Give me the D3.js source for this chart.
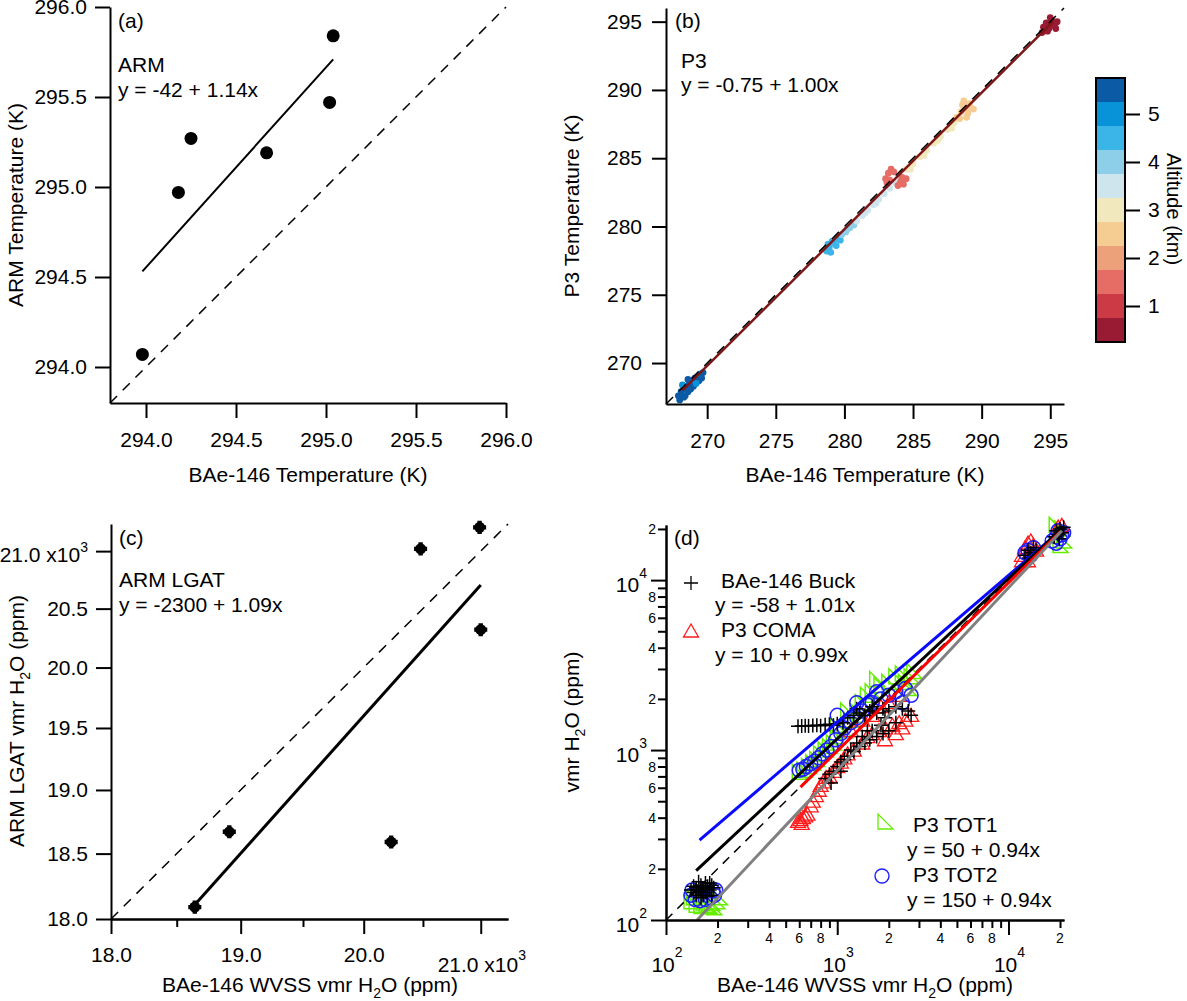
<!DOCTYPE html>
<html lang="en">
<head>
<meta charset="UTF-8">
<title>Temperature and water vapour comparisons</title>
<style>
  body{margin:0;background:#fff;}
  svg{font-family:"Liberation Sans",Arial,sans-serif;}
</style>
</head>
<body>
<svg id="fig" width="1187" height="1001"></svg>
<script src="https://d3js.org/d3.v7.min.js"></script>
<script>
// ---------------- data ----------------
// (a) ARM surface temperature against BAe-146
const armBaeT = [293.98, 294.18, 294.25, 294.67, 295.02, 295.04];
const armT    = [294.07, 294.97, 295.27, 295.19, 295.47, 295.84];
const aTicks  = [294.0, 294.5, 295.0, 295.5, 296.0];

// (b) P3 temperature against BAe-146, coloured by altitude (km)
const p3BaeT = [267.9,268.1,268.3,268.5,268.7,268.9,269.1,269.3,269.5,269.7,268.4,268.6,268.2,269.0,269.4,268.0,268.8,269.2,268.3,269.6,268.6,
  278.7,278.9,279.2,279.5,279.0,278.8,279.4,279.7,279.1,
  279.8,280.1,280.4,280.7,280.2,
  280.9,281.3,281.7,282.1,282.5,282.9,283.3,283.7,284.1,281.5,282.3,
  283.0,283.2,283.4,283.3,283.6,283.1,284.1,284.3,284.5,283.9,284.2,
  284.5,285.0,285.5,286.0,286.5,287.0,287.5,288.0,284.8,285.8,286.8,287.8,
  288.2,288.5,288.8,289.0,288.6,289.2,288.4,289.4,288.7,288.9,289.1,
  294.4,294.6,294.8,295.0,295.2,294.9,295.1,295.3,294.7,295.5,294.5,295.0,295.4,294.8];
const p3T = [267.6,267.9,268.1,268.3,268.5,268.7,268.9,269.0,269.2,269.3,267.6,267.9,268.4,268.3,268.7,267.3,268.1,268.5,267.5,268.9,268.8,
  278.2,278.5,278.8,279.1,278.1,278.7,278.6,279.0,278.9,
  279.4,279.6,279.9,280.1,279.8,
  280.4,280.8,281.2,281.6,282.0,282.4,282.8,283.2,283.5,281.0,281.7,
  283.5,283.9,284.2,283.4,284.0,283.2,283.3,283.1,283.5,283.0,283.6,
  284.2,284.6,285.1,285.6,286.1,286.6,287.1,287.6,284.2,285.2,286.3,287.2,
  288.0,288.4,288.6,288.3,288.9,288.7,287.9,288.6,289.2,288.0,289.0,
  294.2,294.4,294.7,294.9,294.8,294.5,295.1,294.7,294.9,295.0,294.6,295.3,294.5,294.3];
const p3Alt = [5.5,5.5,5.5,5.5,5.5,5.0,5.5,5.5,5.0,5.5,5.5,5.5,5.0,5.5,5.5,5.5,5.5,5.0,5.5,5.5,5.5,
  4.5,4.5,4.6,4.5,4.6,4.5,4.5,4.5,4.5,
  4.0,4.0,3.9,4.0,4.0,
  3.5,3.5,3.6,3.5,3.5,3.4,3.5,3.5,3.5,3.5,3.5,
  1.5,1.5,1.6,1.5,1.5,1.5,1.6,1.5,1.5,1.5,1.5,
  3.0,3.0,2.9,3.0,3.0,3.0,3.1,3.0,3.0,3.0,3.0,3.0,
  2.5,2.5,2.4,2.5,2.5,2.5,2.5,2.4,2.5,2.5,2.5,
  0.5,0.5,0.5,0.5,0.5,0.5,0.5,0.5,0.5,0.5,0.5,0.5,0.5,0.5];
const p3FitX = [268.2, 295.2];
const p3FitY = [268.0, 295.0];
const bTicks = [270, 275, 280, 285, 290, 295];
const altColors = ["#991b33","#cc3a46","#e56d66","#eda17a","#f5cc92","#f1e8bd",
                   "#cfe5ee","#8dcfe8","#3bb5e8","#0893d8","#0b5aa6"];
const altTicks = [1, 2, 3, 4, 5];

// (c) ARM LGAT water vapour against BAe-146 WVSS (ppm)
const lgatBae = [18640, 18910, 20230, 20480, 20990, 21000];
const lgatArm = [18090, 18670, 18590, 21020, 21210, 20320];
const cTicksY = [18000, 18500, 19000, 19500, 20000, 20500, 21000];
const cTicksX = [18000, 19000, 20000, 21000];
const cMinorX = [18500, 19500, 20500];

// (d) all hygrometers against BAe-146 WVSS (ppm)
const buckX = [140,145,150,155,160,165,170,175,180,185,150,160,170,180,145,190,155,165,175,185,150,170,160,
  590,620,650,680,720,760,800,850,900,950,1000,1080,
  1150,1250,1350,1450,1550,1700,1850,2000,2200,2400,2600,1300,1600,2700,1900,
  850,900,950,1000,1050,1100,1150,1250,1350,1450,1550,1700,1850,2000,1200,1400,1600,920,1050,1300,1500,1800,2200,
  12500,13000,13500,14000,14500,13200,18500,19000,19500,20000,20500,19800,21000];
const buckY = [150,145,155,148,160,152,145,158,150,140,140,135,165,165,158,155,168,140,138,160,150,155,148,
  1380,1385,1390,1385,1395,1400,1390,1410,1420,1400,1430,1450,
  1550,1600,1650,1600,1700,1650,1750,1700,1800,1750,1700,1750,1800,1600,1550,
  680,720,750,800,850,880,920,980,1050,1100,1150,1200,1250,1300,1000,1200,1300,640,750,1100,1300,1400,1450,
  14000,15000,14500,15500,15000,13500,18000,19500,18500,20000,19000,17500,20500];
const comaX = [590,610,630,650,670,620,700,720,750,780,800,830,860,900,950,1000,1050,1100,1150,1250,1400,1500,1600,1750,
  1900,2100,2300,2500,2700,2400,2200,1900,1200,1400,1600,1800,2000,2300,
  12000,12500,13000,13500,14000,14500,13000,12000,19500,20500];
const comaY = [380,390,400,410,420,370,470,500,540,580,620,650,690,700,750,800,850,900,950,1000,1100,1200,1250,1300,
  1350,1400,1450,1500,1600,1350,1250,1150,1300,1500,1600,1800,1900,2100,
  14000,15500,16500,17000,16000,15000,13000,13000,20500,21000];
const tot1X = [140,150,160,172,185,198,205,145,190,165,178,
  600,640,680,720,760,800,850,900,950,1000,1100,1200,1300,1400,1500,1600,1800,2000,2200,2400,2700,2600,1350,1000,1150,1700,2800,2500,
  19000,20500,21000,20000];
const tot1Y = [128,122,120,122,125,128,135,135,118,126,120,
  740,760,800,840,880,950,1000,1050,1100,1200,1300,1500,1700,1900,2100,2200,2400,2500,2700,2800,2700,2300,1600,1400,1700,2600,2900,2500,
  21000,20000,17000,16000];
const tot2X = [140,148,158,170,182,192,195,188,142,
  600,630,660,700,740,780,820,870,920,980,1050,1100,1200,1300,1400,1500,1600,1800,2000,2200,2500,2700,2400,1300,1000,1700,
  12500,13000,13500,14000,18000,19000,19500,20000,20500,21000,19000];
const tot2Y = [140,132,130,132,135,140,150,148,150,
  760,770,800,830,860,900,950,1000,1050,1150,1250,1350,1450,1550,1700,1850,1900,2000,2100,2200,2300,2100,1900,1900,1600,2200,
  14500,15000,14000,15500,17000,18000,19500,17500,18500,19000,16500];
// fitted lines (end points)
const fitBlueX  = [157, 20000],  fitBlueY  = [295, 19400];
const fitBlackX = [150, 21000],  fitBlackY = [195, 20500];
const fitRedX   = [610, 20000],  fitRedY   = [605, 19200];
const fitGrayX  = [152, 20500],  fitGrayY  = [100, 19500];
const dMajor = [100, 1000, 10000];
const dMinor = [200,300,400,500,600,700,800,900,2000,3000,4000,5000,6000,7000,8000,9000,20000];
const dMinorLab = [200,400,600,800,2000,4000,6000,8000,20000];

// ---------------- helpers ----------------
const FS = 21;
const svg = d3.select("#fig");

function styleAxis(g){
  g.attr("font-size", FS).attr("font-family", null);
  g.selectAll("path,line").attr("stroke", "#000").attr("stroke-width", 2);
  g.selectAll("text").attr("fill", "#000");
}
function txt(g, x, y, s, size, anchor){
  return g.append("text").attr("x", x).attr("y", y)
    .attr("font-size", size || FS).attr("text-anchor", anchor || "start").text(s);
}
// "main" followed by a superscript
function sci(g, x, y, main, sup, anchor, raise){
  const t = g.append("text").attr("x", x).attr("y", y)
    .attr("font-size", FS).attr("text-anchor", anchor);
  t.append("tspan").text(main);
  t.append("tspan").attr("dy", -raise).attr("font-size", 14).text(sup);
  return t;
}
// label containing H2O with subscript
function h2o(t, pre, post){
  t.append("tspan").text(pre + "H");
  t.append("tspan").attr("dy", 6).attr("font-size", 14).text("2");
  t.append("tspan").attr("dy", -6).text("O" + post);
}
function yTitle(g, x, y, rot){
  return g.append("text").attr("transform", `translate(${x},${y}) rotate(${rot})`)
    .attr("text-anchor", "middle").attr("font-size", FS);
}
function linFit(xs, ys){
  const mx = d3.mean(xs), my = d3.mean(ys);
  let sxy = 0, sxx = 0;
  xs.forEach((x, i) => { sxy += (x - mx) * (ys[i] - my); sxx += (x - mx) * (x - mx); });
  const b = sxy / sxx;
  return {a: my - b * mx, b: b};
}
function segment(g, x, y, xs, ys, color, w, dash){
  return g.append("line")
    .attr("x1", x(xs[0])).attr("y1", y(ys[0]))
    .attr("x2", x(xs[1])).attr("y2", y(ys[1]))
    .attr("stroke", color).attr("stroke-width", w)
    .attr("stroke-dasharray", dash || null);
}

// ---------------- (a) ----------------
const xA = d3.scaleLinear([293.8, 296.0], [110, 506]);
const yA = d3.scaleLinear([293.8, 296.0], [403, 7]);
const gA = svg.append("g");
segment(gA, xA, yA, xA.domain(), yA.domain(), "#000", 1.5, "10,8");
const fitA = linFit(armBaeT, armT);
const exA = d3.extent(armBaeT);
segment(gA, xA, yA, exA, exA.map(v => fitA.a + fitA.b * v), "#000", 2);
gA.selectAll("circle").data(armBaeT).join("circle")
  .attr("cx", d => xA(d)).attr("cy", (d, i) => yA(armT[i])).attr("r", 6.5).attr("fill", "#000");
gA.append("g").attr("transform", "translate(0,403)")
  .call(d3.axisBottom(xA).tickValues(aTicks).tickFormat(d3.format(".1f")).tickSize(15).tickSizeOuter(0).tickPadding(14))
  .call(styleAxis);
gA.append("g").attr("transform", "translate(110,0)")
  .call(d3.axisLeft(yA).tickValues(aTicks).tickFormat(d3.format(".1f")).tickSize(15).tickSizeOuter(0).tickPadding(8))
  .call(styleAxis);
txt(gA, 118, 28, "(a)");
txt(gA, 118, 72, "ARM");
txt(gA, 118, 97, "y = -42 + 1.14x");
txt(gA, 308, 482, "BAe-146 Temperature (K)", FS, "middle");
yTitle(gA, 23, 205, -90).text("ARM Temperature (K)");

// ---------------- (b) ----------------
const xB = d3.scaleLinear([267, 296], [666, 1064]);
const yB = d3.scaleLinear([267, 296], [404, 8]);
const altColor = d3.scaleQuantize().domain([0.25, 5.75]).range(altColors);
const gB = svg.append("g");
gB.selectAll("circle").data(p3BaeT).join("circle")
  .attr("cx", d => xB(d)).attr("cy", (d, i) => yB(p3T[i])).attr("r", 3.4)
  .attr("fill", (d, i) => altColor(p3Alt[i]));
segment(gB, xB, yB, p3FitX, p3FitY, "#7e1616", 2.5);
segment(gB, xB, yB, xB.domain(), yB.domain(), "#000", 1.5, "10,8");
gB.append("g").attr("transform", "translate(0,404)")
  .call(d3.axisBottom(xB).tickValues(bTicks).tickSize(15).tickSizeOuter(0).tickPadding(14))
  .call(styleAxis);
gB.append("g").attr("transform", "translate(666,0)")
  .call(d3.axisLeft(yB).tickValues(bTicks).tickSize(14).tickSizeOuter(0).tickPadding(10))
  .call(styleAxis);
txt(gB, 675, 28, "(b)");
txt(gB, 681, 68, "P3");
txt(gB, 681, 92, "y = -0.75 + 1.00x");
txt(gB, 865, 482, "BAe-146 Temperature (K)", FS, "middle");
yTitle(gB, 579, 206, -90).text("P3 Temperature (K)");

// colour bar
const yAlt = d3.scaleLinear([0.25, 5.75], [342, 78]);
const gCb = svg.append("g");
gCb.selectAll("rect").data(altColors).join("rect")
  .attr("x", 1096).attr("width", 29)
  .attr("y", d => yAlt(altColor.invertExtent(d)[1]))
  .attr("height", d => yAlt(altColor.invertExtent(d)[0]) - yAlt(altColor.invertExtent(d)[1]))
  .attr("fill", d => d);
gCb.append("rect").attr("x", 1096).attr("y", 78).attr("width", 29).attr("height", 264)
  .attr("fill", "none").attr("stroke", "#000").attr("stroke-width", 2);
gCb.append("g").attr("transform", "translate(1125,0)")
  .call(d3.axisRight(yAlt).tickValues(altTicks).tickFormat(d3.format("d")).tickSize(15).tickSizeOuter(0).tickPadding(8))
  .call(styleAxis)
  .call(g => g.select(".domain").remove());
yTitle(gCb, 1167, 209, 90).attr("font-size", 20).text("Altitude (km)");

// ---------------- (c) ----------------
const xC = d3.scaleLog([18000, 21240], [111, 508]);
const yC = d3.scaleLog([18000, 21240], [919, 524]);
const gC = svg.append("g");
segment(gC, xC, yC, xC.domain(), yC.domain(), "#000", 1.5, "10,8");
const fitC = linFit(lgatBae, lgatArm);
const exC = d3.extent(lgatBae);
segment(gC, xC, yC, exC, exC.map(v => fitC.a + fitC.b * v), "#000", 3);
const ptC = gC.selectAll("g.pt").data(lgatBae).join("g").attr("class", "pt")
  .attr("transform", (d, i) => `translate(${xC(d)},${yC(lgatArm[i])})`);
ptC.append("circle").attr("r", 5.5).attr("fill", "#000");
ptC.append("path").attr("d", d3.symbol(d3.symbolCross, 95)).attr("fill", "#000");
const fmtC = d => d === 21000 ? "" : (d / 1000).toFixed(1);
gC.append("g").attr("transform", "translate(0,919)")
  .call(d3.axisBottom(xC).tickValues(cTicksX).tickFormat(fmtC).tickSize(15).tickSizeOuter(0).tickPadding(13))
  .call(styleAxis);
gC.append("g").attr("transform", "translate(0,919)")
  .call(d3.axisBottom(xC).tickValues(cMinorX).tickFormat("").tickSize(8).tickSizeOuter(0))
  .call(styleAxis);
gC.append("g").attr("transform", "translate(111,0)")
  .call(d3.axisLeft(yC).tickValues(cTicksY).tickFormat(fmtC).tickSize(15).tickSizeOuter(0).tickPadding(8))
  .call(styleAxis);
sci(gC, 88, yC(21000) + 11, "21.0 x10", "3", "end", 10);
sci(gC, 526, 972, "21.0 x10", "3", "end", 12);
txt(gC, 119, 545, "(c)");
txt(gC, 119, 587, "ARM LGAT");
txt(gC, 119, 612, "y = -2300 + 1.09x");
h2o(gC.append("text").attr("x", 310).attr("y", 992).attr("font-size", FS).attr("text-anchor", "middle"),
    "BAe-146 WVSS vmr ", " (ppm)");
h2o(yTitle(gC, 24, 721, -90), "ARM LGAT vmr ", " (ppm)");

// ---------------- (d) ----------------
const xD = d3.scaleLog([100, 21100], [666, 1064]);
const yD = d3.scaleLog([100, 21100], [920, 525]);
const gD = svg.append("g");
const shapes = {
  plus: "M-7,0H7M0,-7V7",
  tri:  "M0,-7L7.5,6L-7.5,6Z",
  rtri: "M-7,-8L-7,7L8,7Z"
};
function scatter(xs, ys, draw){
  const s = gD.append("g").selectAll("g").data(xs).join("g")
    .attr("transform", (d, i) => `translate(${xD(d)},${yD(ys[i])})`);
  draw(s);
}
scatter(tot1X, tot1Y, s => s.append("path").attr("d", shapes.rtri)
  .attr("fill", "none").attr("stroke", "#66ee00").attr("stroke-width", 1.5));
scatter(comaX, comaY, s => s.append("path").attr("d", shapes.tri)
  .attr("fill", "none").attr("stroke", "#ff1a1a").attr("stroke-width", 1.3));
scatter(tot2X, tot2Y, s => s.append("circle").attr("r", 7)
  .attr("fill", "none").attr("stroke", "#1f1fff").attr("stroke-width", 1.5));
scatter(buckX, buckY, s => s.append("path").attr("d", shapes.plus)
  .attr("fill", "none").attr("stroke", "#000").attr("stroke-width", 1.5));

segment(gD, xD, yD, xD.domain(), yD.domain(), "#000", 1.5, "9,7");
segment(gD, xD, yD, fitBlueX, fitBlueY, "#0a0aff", 3);
segment(gD, xD, yD, fitBlackX, fitBlackY, "#000", 3);
segment(gD, xD, yD, fitRedX, fitRedY, "#ff0000", 3);
segment(gD, xD, yD, fitGrayX, fitGrayY, "#808080", 3);

// axes with major / minor log ticks
gD.append("g").attr("transform", "translate(0,920)")
  .call(d3.axisBottom(xD).tickValues(dMajor).tickFormat("").tickSize(15).tickSizeOuter(0))
  .call(styleAxis);
gD.append("g").attr("transform", "translate(0,920)")
  .call(d3.axisBottom(xD).tickValues(dMinor).tickFormat("").tickSize(8).tickSizeOuter(0))
  .call(styleAxis);
gD.append("g").attr("transform", "translate(666,0)")
  .call(d3.axisLeft(yD).tickValues(dMajor).tickFormat("").tickSize(15).tickSizeOuter(0))
  .call(styleAxis);
gD.append("g").attr("transform", "translate(666,0)")
  .call(d3.axisLeft(yD).tickValues(dMinor).tickFormat("").tickSize(8).tickSizeOuter(0))
  .call(styleAxis);
const lead = d => String(d)[0];
dMinorLab.forEach(d => {
  txt(gD, xD(d), 943, lead(d), 14, "middle");
  txt(gD, 656, yD(d) + 5, lead(d), 14, "end");
});
dMajor.forEach(d => {
  const p = String(Math.round(Math.log10(d)));
  sci(gD, xD(d) + 1, 972, "10", p, "middle", 15);
  sci(gD, 647, yD(d) + 12, "10", p, "end", 14);
});
txt(gD, 674, 545, "(d)");
// legend
const leg = gD.append("g");
leg.append("path").attr("transform", "translate(691,583)").attr("d", shapes.plus)
  .attr("fill", "none").attr("stroke", "#000").attr("stroke-width", 1.3);
txt(leg, 721, 588, "BAe-146 Buck");
txt(leg, 715, 612, "y = -58 + 1.01x");
leg.append("path").attr("transform", "translate(691,631)").attr("d", shapes.tri)
  .attr("fill", "none").attr("stroke", "#ff1a1a").attr("stroke-width", 1.3);
txt(leg, 721, 637, "P3 COMA");
txt(leg, 715, 662, "y = 10 + 0.99x");
leg.append("path").attr("transform", "translate(885,822)").attr("d", shapes.rtri)
  .attr("fill", "none").attr("stroke", "#66ee00").attr("stroke-width", 1.3);
txt(leg, 913, 832, "P3 TOT1");
txt(leg, 907, 857, "y = 50 + 0.94x");
leg.append("circle").attr("cx", 882).attr("cy", 876).attr("r", 7)
  .attr("fill", "none").attr("stroke", "#1f1fff").attr("stroke-width", 1.4);
txt(leg, 913, 882, "P3 TOT2");
txt(leg, 907, 907, "y = 150 + 0.94x");
h2o(gD.append("text").attr("x", 865).attr("y", 992).attr("font-size", FS).attr("text-anchor", "middle"),
    "BAe-146 WVSS vmr ", " (ppm)");
h2o(yTitle(gD, 579, 722, -90), "vmr ", " (ppm)");
</script>
</body>
</html>
